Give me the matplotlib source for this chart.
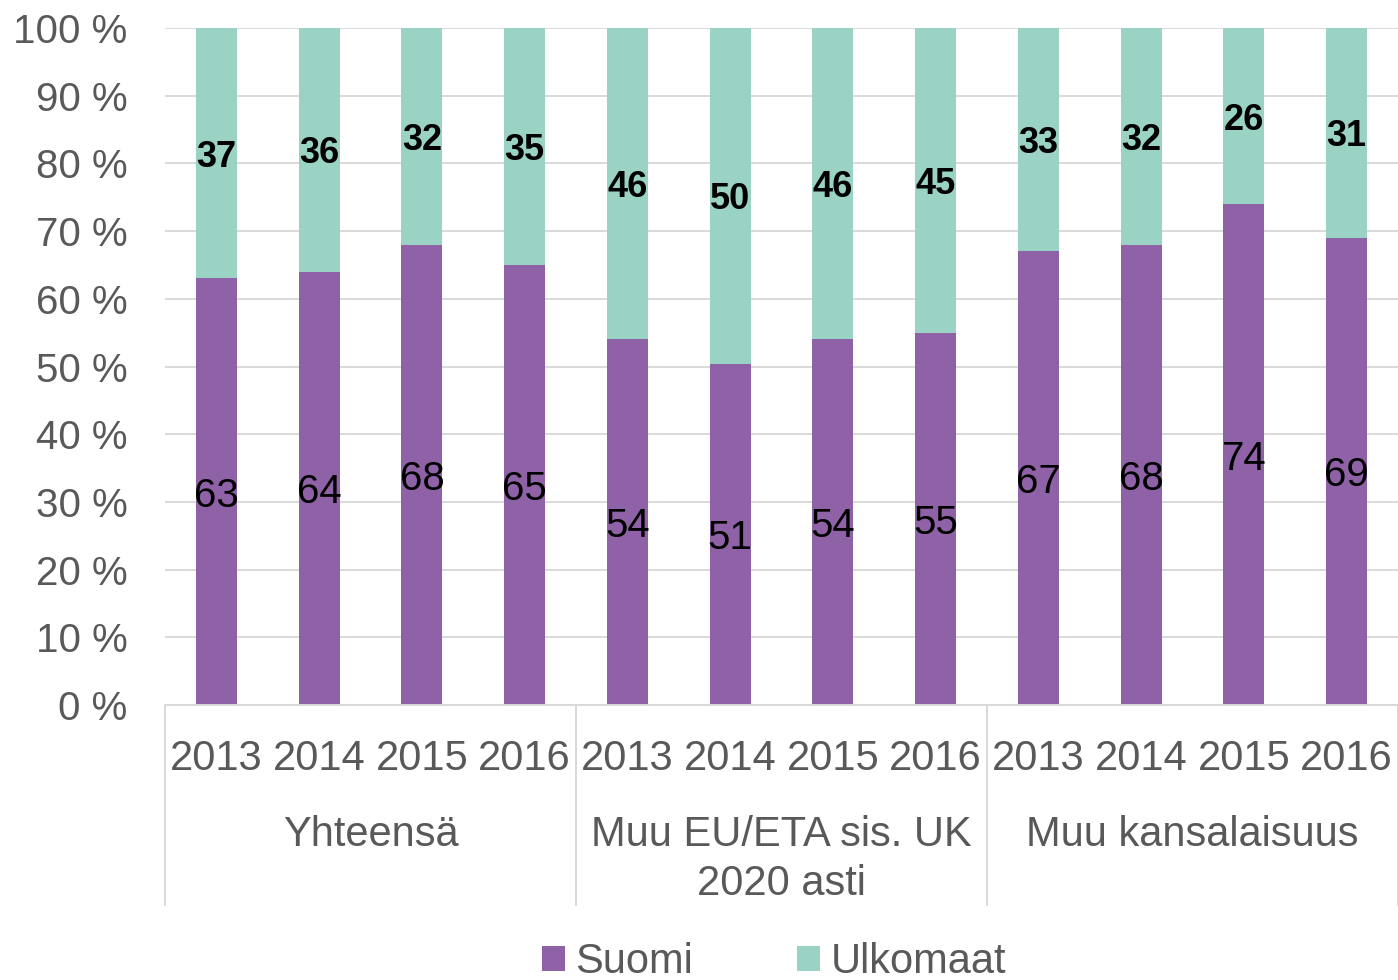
import matplotlib
matplotlib.use("Agg")
import matplotlib.pyplot as plt
import matplotlib.transforms as mtransforms
from matplotlib.patches import Patch
import numpy as np

plt.rcParams['font.family'] = ['Liberation Sans', 'DejaVu Sans']

years = ["2013", "2014", "2015", "2016"] * 3
groups = ["Yhteensä", "Muu EU/ETA sis. UK\n2020 asti", "Muu kansalaisuus"]
suomi = [63, 64, 68, 65, 54, 50.4, 54, 55, 67, 68, 74, 69]
ulkomaat = [37, 36, 32, 35, 46, 49.6, 46, 45, 33, 32, 26, 31]
suomi_labels = ["63", "64", "68", "65", "54", "51", "54", "55", "67", "68", "74", "69"]
ulkomaat_labels = ["37", "36", "32", "35", "46", "50", "46", "45", "33", "32", "26", "31"]
yticks = [0, 10, 20, 30, 40, 50, 60, 70, 80, 90, 100]
series_names = ["Suomi", "Ulkomaat"]

c_suomi = "#8F62A8"
c_ulko = "#9AD2C3"
grid_c = "#D9D9D9"
txt_c = "#595959"

W, H = 1398, 980
fig = plt.figure(figsize=(W / 100, H / 100), dpi=100)
ax = fig.add_axes([165 / W, (H - 705) / H, (1398 - 165) / W, 677 / H])

x = np.arange(len(years))
bw = 0.4
ax.bar(x, suomi, width=bw, color=c_suomi, zorder=3)
ax.bar(x, ulkomaat, width=bw, bottom=suomi, color=c_ulko, zorder=3)

for i in range(len(x)):
    ax.text(x[i], suomi[i] / 2, suomi_labels[i], ha="center", va="center_baseline",
            fontsize=29, color="black", zorder=5)
    ax.text(x[i], suomi[i] + ulkomaat[i] / 2, ulkomaat_labels[i], ha="center",
            va="center_baseline", fontsize=26, fontweight="bold", color="black", zorder=5)

ax.set_xlim(-0.5, len(x) - 0.5)
ax.set_ylim(0, 100)
ax.set_yticks(yticks)
ax.set_yticklabels([f"{v} %" for v in yticks], fontsize=29, color=txt_c)
ax.tick_params(axis="y", length=0, pad=27)
ax.set_xticks([])
ax.yaxis.grid(True, color=grid_c, linewidth=1.4, zorder=0)
for s in ["left", "right", "top"]:
    ax.spines[s].set_visible(False)
ax.spines["bottom"].set_color(grid_c)
ax.spines["bottom"].set_linewidth(1.4)
ax.spines["bottom"].set_zorder(4)

trans = mtransforms.blended_transform_factory(ax.transData, ax.transAxes)
ax_h = 677.0
for i, yr in enumerate(years):
    ax.text(x[i], (705 - 770) / ax_h, yr, transform=trans, ha="center",
            va="baseline", fontsize=30, color=txt_c)
for g, name in enumerate(groups):
    for k, line in enumerate(name.split("\n")):
        ax.text(g * 4 + 1.5, (705 - 846 - 49 * k) / ax_h, line, transform=trans,
                ha="center", va="baseline", fontsize=30, color=txt_c)
for b in [-0.5, 3.5, 7.5, 11.5]:
    ax.plot([b, b], [0, (705 - 905) / ax_h], transform=trans, color=grid_c,
            linewidth=1.4, clip_on=False)

handles = [Patch(facecolor=c_suomi, label=series_names[0]),
           Patch(facecolor=c_ulko, label=series_names[1])]
leg = fig.legend(handles=handles, loc="center", ncol=2,
                 bbox_to_anchor=(774 / W, 1 - 962 / H), frameon=False,
                 fontsize=30, handlelength=0.55, handleheight=0.55,
                 handletextpad=0.25, columnspacing=2.5, borderpad=0)
for t in leg.get_texts():
    t.set_color(txt_c)

fig.savefig("out.png", dpi=100)
